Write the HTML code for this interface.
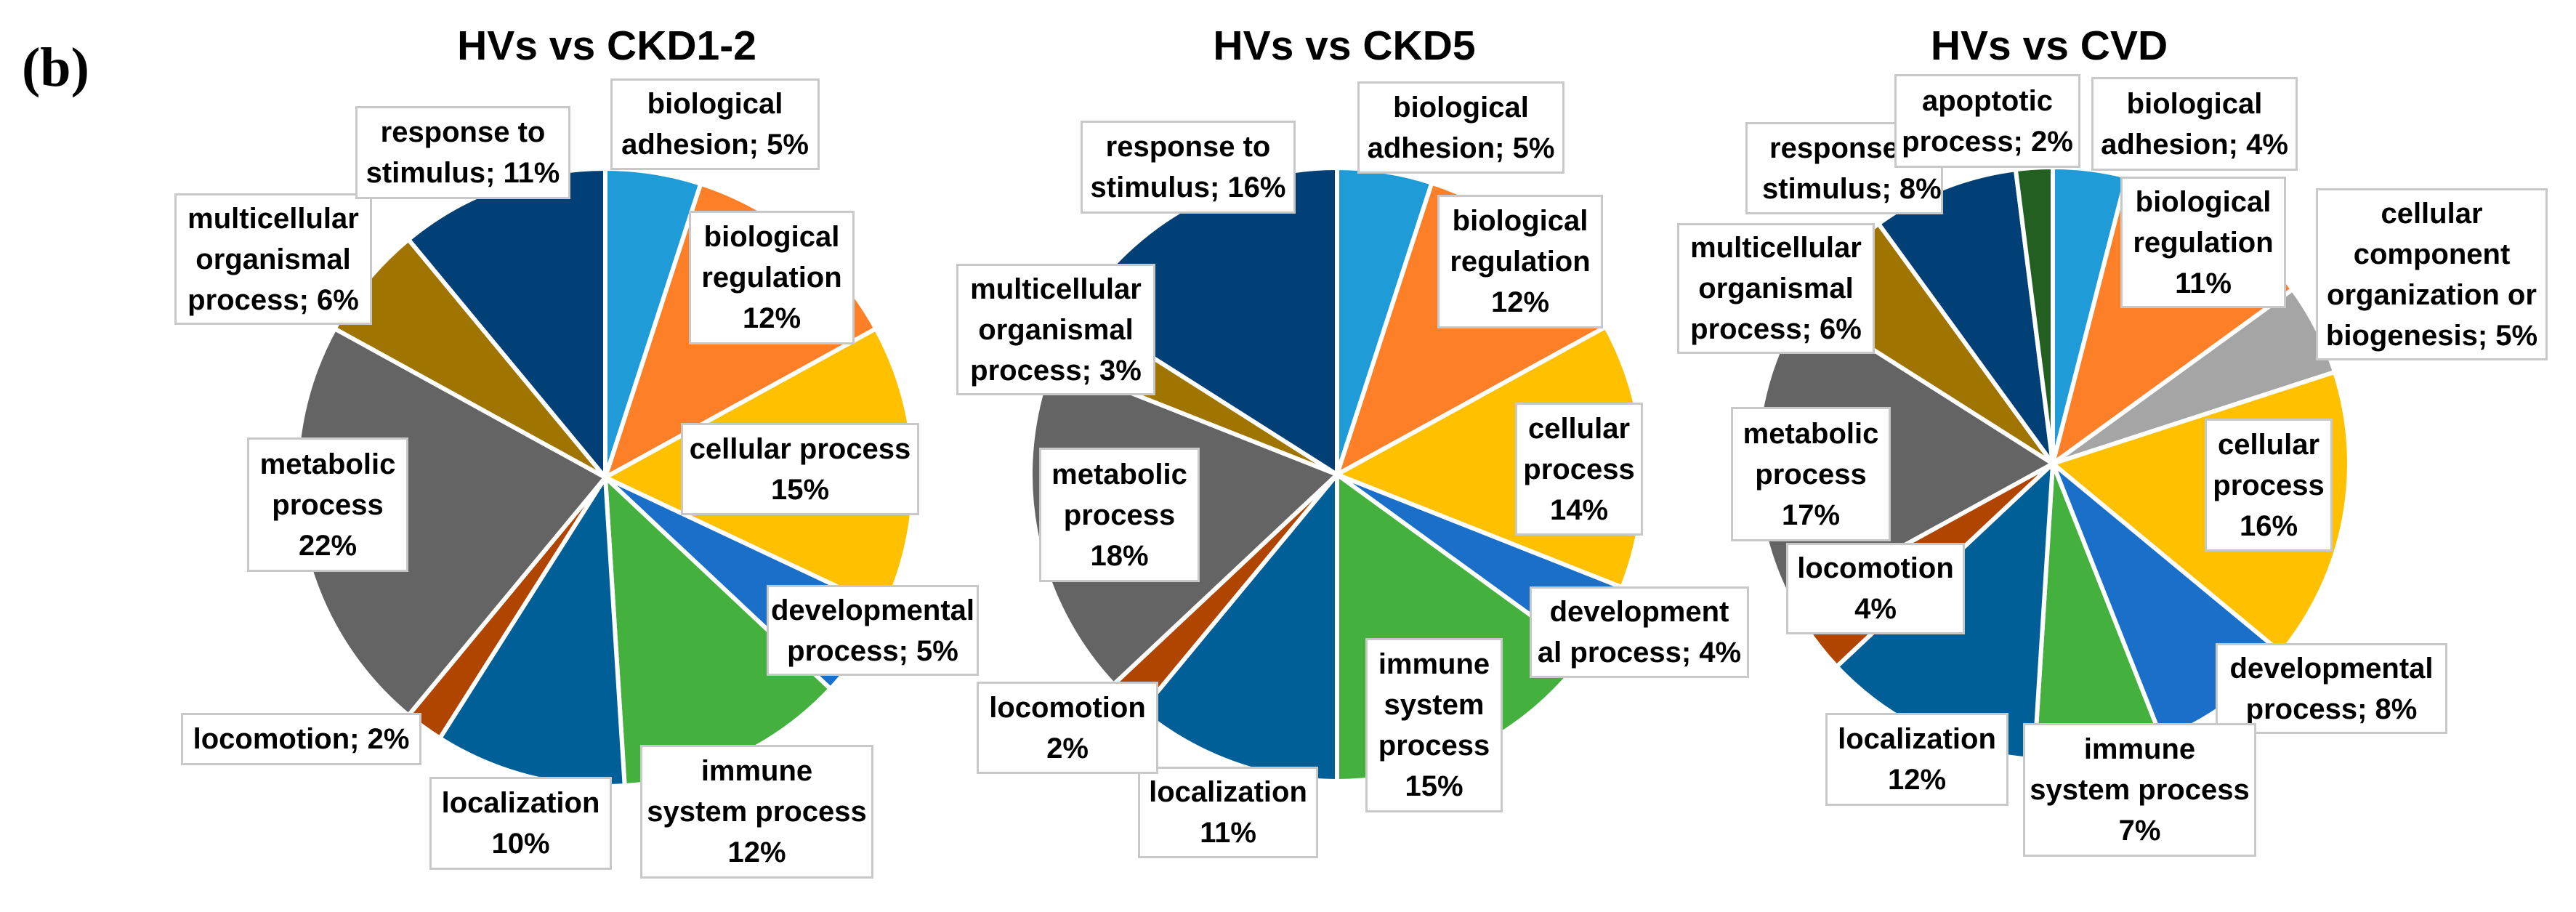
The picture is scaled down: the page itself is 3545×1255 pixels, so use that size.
<!DOCTYPE html>
<html><head><meta charset="utf-8"><style>
html,body{margin:0;padding:0;background:#fff;}
#root{position:relative;width:3545px;height:1255px;overflow:hidden;background:#fff;font-family:"Liberation Sans",sans-serif;}
svg{position:absolute;left:0;top:0;}
.lb{position:absolute;box-sizing:border-box;border:3px solid #c8c8c8;background:#fff;display:flex;align-items:center;justify-content:center;text-align:center;font-weight:bold;font-size:40px;line-height:56px;color:#000;white-space:nowrap;}
.tt{position:absolute;font-weight:bold;font-size:57px;color:#000;transform:translateX(-50%);top:30px;white-space:nowrap;}
</style></head><body>
<div id="root">
<svg id="pies" width="3545" height="1255"></svg>
<div style="position:absolute;left:30px;top:50px;font-family:'Liberation Serif',serif;font-weight:bold;font-size:76px;">(b)</div>
<div class="tt" style="left:835px">HVs vs CKD1-2</div>
<div class="tt" style="left:1850px">HVs vs CKD5</div>
<div class="tt" style="left:2820px">HVs vs CVD</div>

<!-- Pie 1 labels -->
<div class="lb" style="left:840px;top:108px;width:288px;height:126px">biological<br>adhesion; 5%</div>
<div class="lb" style="left:948px;top:290px;width:228px;height:184px">biological<br>regulation<br>12%</div>
<div class="lb" style="left:937px;top:582px;width:328px;height:127px">cellular process<br>15%</div>
<div class="lb" style="left:1055px;top:805px;width:292px;height:125px">developmental<br>process; 5%</div>
<div class="lb" style="left:881px;top:1025px;width:321px;height:184px">immune<br>system process<br>12%</div>
<div class="lb" style="left:591px;top:1069px;width:251px;height:128px">localization<br>10%</div>
<div class="lb" style="left:249px;top:981px;width:331px;height:72px">locomotion; 2%</div>
<div class="lb" style="left:340px;top:602px;width:222px;height:185px">metabolic<br>process<br>22%</div>
<div class="lb" style="left:240px;top:266px;width:272px;height:181px">multicellular<br>organismal<br>process; 6%</div>
<div class="lb" style="left:489px;top:146px;width:296px;height:128px">response to<br>stimulus; 11%</div>

<!-- Pie 2 labels -->
<div class="lb" style="left:1868px;top:112px;width:285px;height:127px">biological<br>adhesion; 5%</div>
<div class="lb" style="left:1978px;top:268px;width:228px;height:184px">biological<br>regulation<br>12%</div>
<div class="lb" style="left:2085px;top:554px;width:176px;height:183px">cellular<br>process<br>14%</div>
<div class="lb" style="left:2105px;top:807px;width:302px;height:126px">development<br>al process; 4%</div>
<div class="lb" style="left:1879px;top:878px;width:189px;height:240px">immune<br>system<br>process<br>15%</div>
<div class="lb" style="left:1566px;top:1055px;width:248px;height:126px">localization<br>11%</div>
<div class="lb" style="left:1344px;top:938px;width:250px;height:127px">locomotion<br>2%</div>
<div class="lb" style="left:1430px;top:616px;width:221px;height:185px">metabolic<br>process<br>18%</div>
<div class="lb" style="left:1316px;top:363px;width:274px;height:181px">multicellular<br>organismal<br>process; 3%</div>
<div class="lb" style="left:1487px;top:166px;width:296px;height:128px">response to<br>stimulus; 16%</div>

<!-- Pie 3 labels -->
<div class="lb" style="left:2402px;top:168px;width:272px;height:127px;justify-content:flex-start;padding-left:20px">response to<br>stimulus; 8%</div>
<div class="lb" style="left:2607px;top:102px;width:256px;height:129px">apoptotic<br>process; 2%</div>
<div class="lb" style="left:2878px;top:106px;width:284px;height:129px">biological<br>adhesion; 4%</div>
<div class="lb" style="left:2918px;top:243px;width:228px;height:181px">biological<br>regulation<br>11%</div>
<div class="lb" style="left:3187px;top:259px;width:319px;height:237px">cellular<br>component<br>organization or<br>biogenesis; 5%</div>
<div class="lb" style="left:3034px;top:576px;width:176px;height:183px">cellular<br>process<br>16%</div>
<div class="lb" style="left:3049px;top:885px;width:319px;height:125px">developmental<br>process; 8%</div>
<div class="lb" style="left:2784px;top:995px;width:321px;height:184px">immune<br>system process<br>7%</div>
<div class="lb" style="left:2512px;top:981px;width:252px;height:128px">localization<br>12%</div>
<div class="lb" style="left:2458px;top:747px;width:246px;height:126px">locomotion<br>4%</div>
<div class="lb" style="left:2382px;top:560px;width:220px;height:185px">metabolic<br>process<br>17%</div>
<div class="lb" style="left:2308px;top:307px;width:272px;height:180px">multicellular<br>organismal<br>process; 6%</div>
</div>
<script>
const colorMap = {adhesion:"#1f9bd7",regulation:"#fd7f27",cellcomp:"#a5a5a5",cellular:"#ffc000",developmental:"#1a70c8",immune:"#44b03d",localization:"#005f96",locomotion:"#b04500",metabolic:"#646464",multicellular:"#a07400",response:"#013f77",apoptotic:"#235f21"};
const cats1 = ["adhesion","regulation","cellular","developmental","immune","localization","locomotion","metabolic","multicellular","response"];
const vals1 = [5,12,15,5,12,10,2,22,6,11];
const cats2 = ["adhesion","regulation","cellular","developmental","immune","localization","locomotion","metabolic","multicellular","response"];
const vals2 = [5,12,14,4,15,11,2,18,3,16];
const cats3 = ["adhesion","regulation","cellcomp","cellular","developmental","immune","localization","locomotion","metabolic","multicellular","response","apoptotic"];
const vals3 = [4,11,5,16,8,7,12,4,17,6,8,2];

const svg = document.getElementById('pies');
const NS = "http://www.w3.org/2000/svg";
function drawPie(cats, vals, cx, cy, r, name){
  const g = document.createElementNS(NS,'g');
  
  
  svg.insertBefore(g, svg.firstChild);
  const total = vals.reduce((a,b)=>a+b,0);
  let acc = 0;
  vals.forEach((v,i)=>{
    const a0 = acc/total*2*Math.PI; acc += v;
    const a1 = acc/total*2*Math.PI;
    const x0 = cx + r*Math.sin(a0), y0 = cy - r*Math.cos(a0);
    const x1 = cx + r*Math.sin(a1), y1 = cy - r*Math.cos(a1);
    const large = (a1-a0) > Math.PI ? 1 : 0;
    const p = document.createElementNS(NS,'path');
    p.setAttribute('d', `M${cx},${cy} L${x0},${y0} A${r},${r} 0 ${large} 1 ${x1},${y1} Z`);
    p.setAttribute('fill', colorMap[cats[i]]);
    p.setAttribute('stroke', '#fff');
    p.setAttribute('stroke-width', '6');
    p.setAttribute('stroke-linejoin', 'round');
    
    
    g.appendChild(p);
  });
}
drawPie(cats1, vals1, 833, 657, 425, 'pie-ckd12');
drawPie(cats2, vals2, 1840, 653, 422, 'pie-ckd5');
drawPie(cats3, vals3, 2825, 638, 408, 'pie-cvd');
</script>
</body></html>
